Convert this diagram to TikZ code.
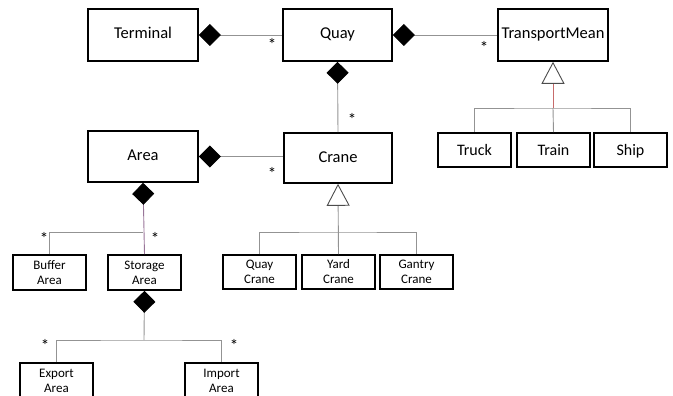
\documentclass[tikz,border=0pt]{standalone}
\usepackage{fontspec}
\setmainfont{Carlito}
\usepackage{tikz}
\usetikzlibrary{positioning, arrows.meta}

\tikzset{
  clase/.style={draw=black, line width=1.6pt, inner sep=0pt, minimum width=110pt, minimum height=52pt, text height=11.5pt, text depth=3.5pt, font=\fontsize{16.5}{20}\selectfont},
  subclase/.style={draw=black, line width=1.6pt, inner sep=0pt, minimum width=73pt, minimum height=34pt, align=center, font=\fontsize{13}{15}\selectfont},
  medio/.style={subclase, text height=11pt, text depth=0.5pt, font=\fontsize{16}{19}\selectfont},
  conn/.style={draw=gray!85, line width=0.9pt},
  comp/.style={conn, {Diamond[length=22pt, width=22pt, color=black]}-},
  gen/.style={conn, {Triangle[open, length=22pt, width=23pt, fill=white, color=gray!60!black]}-},
  mult/.style={font=\fontsize{17}{17}\selectfont, inner sep=0pt}
}

\begin{document}
\begin{tikzpicture}[x=1pt, y=-1pt]
        \useasboundingbox (0,0) rectangle (673,396);
        % Primera fila
        \node[clase] (terminal) at (143,35) {Terminal};
        \node[clase, minimum width=109pt] (quay) at (337.5,35) {Quay};
        \node[clase] (transport) at (553,35) {TransportMean};
        % Segunda fila
        \node[clase, minimum height=51pt] (area) at (143,156.5) {Area};
        \node[clase, minimum width=108pt, minimum height=50pt] (crane) at (338,158) {Crane};
        \node[medio] (truck) at (474.5,150) {Truck};
        \node[medio] (train) at (553.5,150) {Train};
        \node[medio] (ship) at (630.5,150) {Ship};
        % Tercera fila
        \node[subclase, minimum height=35pt] (buffer) at (49.5,272.5) {Buffer\\Area};
        \node[subclase, minimum height=35pt] (storage) at (144.5,272.5) {Storage\\Area};
        \node[subclase] (quaycrane) at (259.5,272) {Quay\\Crane};
        \node[subclase] (yard) at (338.5,272) {Yard\\Crane};
        \node[subclase] (gantry) at (416.5,272) {Gantry\\Crane};
        % Cuarta fila
        \node[subclase, minimum height=35pt] (export) at (56.5,380.5) {Export\\Area};
        \node[subclase, minimum height=35pt] (import) at (221.5,380.5) {Import\\Area};
        % Puntos de union
        \coordinate (areaJ) at (143,232);
        \coordinate (storageJ) at (144,340);
        \coordinate (craneJ) at (338,232);
        \coordinate (transportJ) at (553,108);
        % Composiciones
        \draw[comp] (terminal.east) -- (quay.west);
        \draw[comp] (quay.east) -- (transport.west);
        \draw[comp] (quay.south) -- (crane.north);
        \draw[comp] (area.east) -- (area.east -| crane.west);
        \draw[comp, draw=violet!35!gray!80] (area.south) -- (storage.north);
        \draw[conn] (buffer.north) |- (areaJ);
        \draw[comp] (storage.south) -- (storageJ);
        \draw[conn] (export.north) |- (storageJ) -| (import.north);
        % Herencias
        \draw[gen] (crane.south) -- (yard.north);
        \draw[conn] (quaycrane.north) |- (craneJ) -| (gantry.north);
        \draw[gen, draw=red!45!gray!80] (transport.south) -- (transportJ);
        \draw[conn] (transportJ) -- (train.north);
        \draw[conn] (truck.north) |- (transportJ) -| (ship.north);
        % Multiplicidades
        \node[mult] (m1) at (272,44) {*};
        \node[mult] (m2) at (484,47) {*};
        \node[mult] (m3) at (352,119) {*};
        \node[mult] (m4) at (272,173) {*};
        \node[mult] (m5) at (44,238) {*};
        \node[mult] (m6) at (155,238) {*};
        \node[mult] (m7) at (45,345) {*};
        \node[mult] (m8) at (234,345) {*};
\end{tikzpicture}
\end{document}
